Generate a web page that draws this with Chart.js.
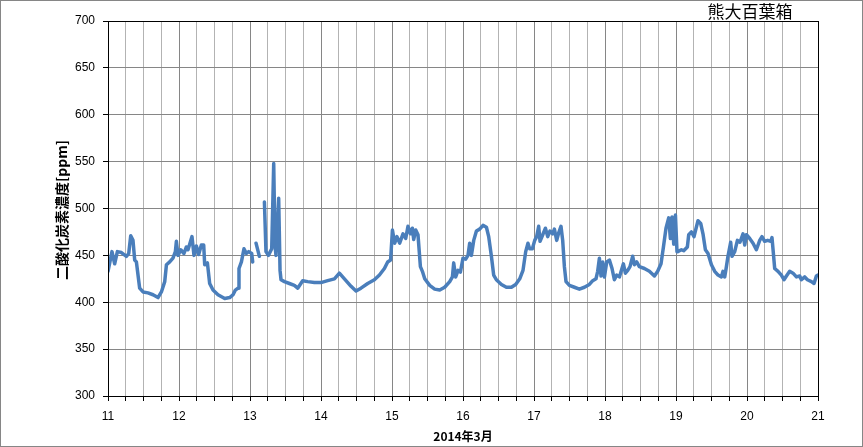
<!DOCTYPE html>
<html>
<head>
<meta charset="utf-8">
<script src="https://cdn.jsdelivr.net/npm/chart.js@4.4.1/dist/chart.umd.min.js"></script>
<style>
html,body{margin:0;padding:0;background:#fff;}
canvas{display:block;}
</style>
</head>
<body>
<canvas id="c" width="863" height="447" style="width:863px;height:447px"></canvas>
<script>
// Time in days of March 2014 (day + fraction of day)
const days = [
11.000,11.056,11.094,11.132,11.189,11.259,11.292,11.320,11.352,11.376,11.400,11.446,11.493,11.563,11.634,11.704,11.752,11.799,11.823,11.869,
11.915,11.949,11.963,11.986,12.024,12.070,12.104,12.127,12.183,12.211,12.245,12.277,12.315,12.348,12.362,12.400,12.432,12.479,12.549,12.644,
12.714,12.761,12.794,12.831,12.845,12.879,12.915,12.949,12.982,13.024,13.038,13.050,13.085,13.132,13.150,13.203,13.225,13.259,13.306,13.334,
13.352,13.366,13.404,13.423,13.437,13.485,13.555,13.625,13.672,13.742,13.813,13.907,14.000,14.094,14.189,14.259,14.330,14.423,14.493,14.563,
14.658,14.752,14.823,14.893,14.939,14.980,15.006,15.038,15.070,15.108,15.155,15.193,15.225,15.259,15.287,15.306,15.334,15.366,15.400,15.428,
15.461,15.531,15.601,15.672,15.742,15.813,15.851,15.869,15.897,15.930,15.963,16.000,16.038,16.070,16.094,16.118,16.151,16.189,16.235,16.282,
16.330,16.362,16.400,16.432,16.470,16.541,16.611,16.682,16.742,16.799,16.845,16.883,16.915,16.939,16.977,17.010,17.038,17.066,17.085,17.123,
17.161,17.193,17.225,17.263,17.287,17.320,17.348,17.380,17.404,17.428,17.451,17.499,17.569,17.639,17.710,17.780,17.827,17.873,17.897,17.921,
17.944,17.968,17.992,18.024,18.062,18.099,18.132,18.165,18.203,18.239,18.259,18.287,18.320,18.352,18.390,18.414,18.446,18.484,18.555,18.625,
18.696,18.742,18.789,18.823,18.859,18.897,18.921,18.944,18.968,18.992,19.014,19.024,19.076,19.108,19.160,19.179,19.217,19.254,19.273,19.310,
19.348,19.380,19.414,19.451,19.499,19.545,19.592,19.639,19.662,19.686,19.710,19.732,19.770,19.789,19.827,19.865,19.901,19.944,19.968,19.992,
20.038,20.085,20.132,20.179,20.211,20.249,20.292,20.334,20.352,20.366,20.390,20.437,20.484,20.521,20.555,20.601,20.648,20.696,20.742,20.766,
20.813,20.851,20.907,20.944,20.977,21.000
];
// CO2 concentration [ppm]; null = missing data
const co2 = [
433,454,441,454,453,449,452,471,466,445,443,415,411,410,408,405,411,422,440,443,
447,454,465,450,456,452,459,456,470,450,460,451,461,461,440,442,420,413,408,404,
405,408,413,415,436,443,457,452,454,452,443,null,463,449,null,507,454,450,457,548,
461,450,511,434,424,422,420,418,415,423,422,421,421,423,425,431,425,417,412,415,
420,424,429,436,443,445,477,463,470,463,473,468,481,473,479,467,477,472,438,433,
425,418,414,413,416,422,427,442,427,434,432,447,446,450,463,450,466,476,478,482,
480,470,449,429,424,419,416,416,419,425,434,454,463,457,457,466,470,481,465,472,
479,470,476,473,478,466,474,481,466,438,422,418,416,414,416,419,423,425,433,447,
428,443,427,443,445,436,424,429,427,436,441,431,434,438,449,440,443,438,436,433,
428,433,441,459,479,490,468,491,462,493,454,454,456,455,459,472,475,470,476,487,
484,473,456,452,440,433,429,427,433,427,438,449,464,449,454,466,464,473,461,472,
468,463,456,466,470,465,466,465,469,457,436,433,429,424,428,433,431,427,428,424,
427,424,422,420,428,429
];
const xTickLabels = ['11','12','13','14','15','16','17','18','19','20','21'];
const yTicks = [300,350,400,450,500,550,600,650,700];
const chartTitle = '熊大百葉箱';
const yTitle = '二酸化炭素濃度[ppm]';
const xTitle = '2014年3月';

const points = days.map((d, i) => ({x: d, y: co2[i]}));

const isInt = v => Math.abs(v - Math.round(v)) < 1e-6;

const deco = {
  id: 'deco',
  beforeDraw(chart) {
    const ctx = chart.ctx;
    ctx.save();
    ctx.fillStyle = '#fff';
    ctx.fillRect(0, 0, chart.width, chart.height);
    ctx.restore();
  },
  afterDraw(chart) {
    const ctx = chart.ctx;
    const a = chart.chartArea;
    ctx.save();
    ctx.strokeStyle = '#000';
    ctx.lineWidth = 1;
    ctx.strokeRect(Math.round(a.left) + 0.5, Math.round(a.top) + 0.5,
                   Math.round(a.right) - Math.round(a.left), Math.round(a.bottom) - Math.round(a.top));
    ctx.strokeStyle = '#868686';
    ctx.strokeRect(0.5, 0.5, chart.width - 1, chart.height - 1);
    ctx.fillStyle = '#000';
    ctx.textAlign = 'center';
    ctx.textBaseline = 'middle';
    ctx.font = '17px "Noto Sans CJK JP"';
    ctx.fillText(chartTitle, 750, 12);
    ctx.font = 'bold 12px "Noto Sans CJK JP"';
    ctx.fillText(xTitle, (a.left + a.right) / 2, 436);
    ctx.translate(62, 210);
    ctx.rotate(-Math.PI / 2);
    ctx.font = 'bold 14px "Noto Sans CJK JP"';
    ctx.fillText(yTitle, 0, 0);
    ctx.restore();
  }
};

new Chart(document.getElementById('c'), {
  type: 'line',
  data: {
    datasets: [{
      data: points,
      borderColor: '#4a7ebb',
      borderWidth: 3.5,
      pointRadius: 0,
      tension: 0,
      spanGaps: false,
      borderCapStyle: 'round',
      borderJoinStyle: 'round'
    }]
  },
  options: {
    responsive: false,
    devicePixelRatio: 1,
    animation: false,
    layout: { padding: { left: 0, right: 45, top: 21, bottom: 0 } },
    plugins: { legend: { display: false }, tooltip: { enabled: false }, title: { display: false } },
    scales: {
      x: {
        type: 'linear',
        min: 11, max: 21,
        afterFit(s) { s.height = 51; },
        border: { color: '#000', width: 1 },
        grid: {
          color: c => isInt(c.tick.value) ? '#868686' : '#b3b3b3',
          tickColor: '#000',
          tickLength: 5
        },
        ticks: {
          stepSize: 0.25,
          autoSkip: false,
          maxRotation: 0,
          padding: 8,
          color: '#000',
          font: { family: '"Liberation Sans", Arial', size: 12 },
          callback: v => isInt(v) ? xTickLabels[Math.round(v) - 11] : ''
        }
      },
      y: {
        min: yTicks[0], max: yTicks[yTicks.length - 1],
        afterFit(s) { s.width = 108; },
        afterBuildTicks(s) { s.ticks = yTicks.map(v => ({value: v})); },
        border: { color: '#000', width: 1 },
        grid: { color: '#868686', tickColor: '#000', tickLength: 5 },
        ticks: {
          padding: 8,
          color: '#000',
          font: { family: '"Liberation Sans", Arial', size: 12 },
          callback: v => String(v)
        }
      }
    }
  },
  plugins: [deco]
});
</script>
</body>
</html>
